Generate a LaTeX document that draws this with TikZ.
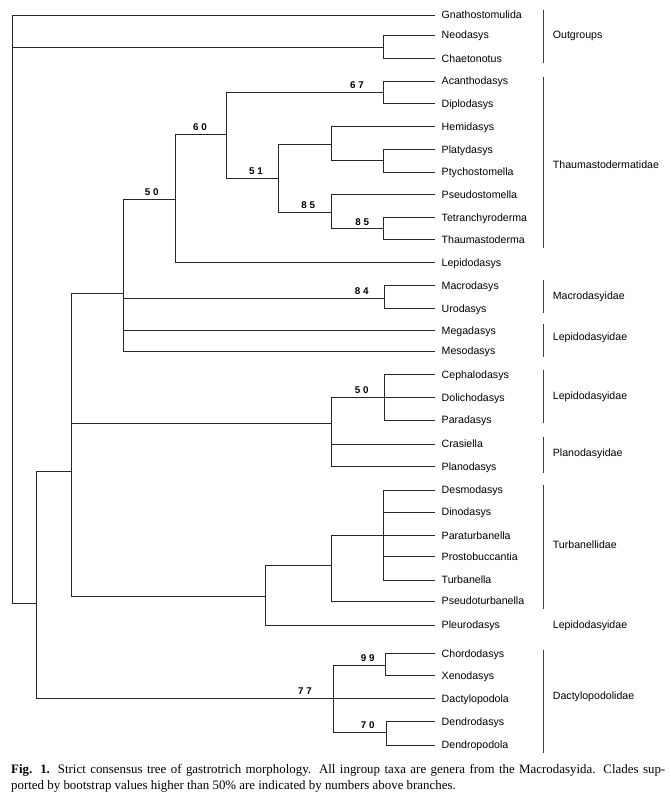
\documentclass[tikz,border=0pt]{standalone}
\usepackage{fontspec}
\setmainfont{Liberation Serif}
\setsansfont{Liberation Sans}
\usetikzlibrary{calc}

\tikzset{
    branch/.style={line width=0.8pt, black!85},
    leaf/.style={anchor=west, inner xsep=6.5pt, inner ysep=0pt, text height=7.6pt, text depth=0pt,
        font=\sffamily\fontsize{10.6}{12}\selectfont},
    family/.style={anchor=west, inner sep=0pt, text height=7.6pt, text depth=0pt,
        font=\sffamily\fontsize{10.6}{12}\selectfont},
    boot/.style={anchor=base, inner sep=0pt, font=\sffamily\bfseries\fontsize{9.8}{11}\selectfont},
    bracket/.style={line width=0.7pt, black!75},
    caption/.style={anchor=west, inner sep=0pt, font=\fontsize{12.9}{15}\selectfont},
}

\begin{document}
\begin{tikzpicture}[x=1pt, y=-1pt]

\def\tipx{435}
\def\famx{543.3}
\def\labx{552.7}

\useasboundingbox (0,0) rectangle (671,800);

% leaves
\node[leaf] (gnatho)     at (\tipx, 15)    {Gnathostomulida};
\node[leaf] (neo)        at (\tipx, 35)    {Neodasys};
\node[leaf] (chaeto)     at (\tipx, 58.3)  {Chaetonotus};
\node[leaf] (acantho)    at (\tipx, 81)    {Acanthodasys};
\node[leaf] (diplo)      at (\tipx, 103.5) {Diplodasys};
\node[leaf] (hemi)       at (\tipx, 126.7) {Hemidasys};
\node[leaf] (platy)      at (\tipx, 149.3) {Platydasys};
\node[leaf] (ptycho)     at (\tipx, 172)   {Ptychostomella};
\node[leaf] (pseudost)   at (\tipx, 194.3) {Pseudostomella};
\node[leaf] (tetra)      at (\tipx, 217.7) {Tetranchyroderma};
\node[leaf] (thaumast)   at (\tipx, 239.3) {Thaumastoderma};
\node[leaf] (lepido)     at (\tipx, 262.5) {Lepidodasys};
\node[leaf] (macro)      at (\tipx, 285.7) {Macrodasys};
\node[leaf] (uro)        at (\tipx, 308.3) {Urodasys};
\node[leaf] (mega)       at (\tipx, 330.5) {Megadasys};
\node[leaf] (meso)       at (\tipx, 351)   {Mesodasys};
\node[leaf] (cephalo)    at (\tipx, 374.3) {Cephalodasys};
\node[leaf] (dolicho)    at (\tipx, 397.3) {Dolichodasys};
\node[leaf] (para)       at (\tipx, 420)   {Paradasys};
\node[leaf] (crasi)      at (\tipx, 444)   {Crasiella};
\node[leaf] (plano)      at (\tipx, 466.7) {Planodasys};
\node[leaf] (desmo)      at (\tipx, 490)   {Desmodasys};
\node[leaf] (dino)       at (\tipx, 512)   {Dinodasys};
\node[leaf] (paraturb)   at (\tipx, 535.7) {Paraturbanella};
\node[leaf] (prosto)     at (\tipx, 556.7) {Prostobuccantia};
\node[leaf] (turb)       at (\tipx, 580)   {Turbanella};
\node[leaf] (pseudoturb) at (\tipx, 601)   {Pseudoturbanella};
\node[leaf] (pleuro)     at (\tipx, 625)   {Pleurodasys};
\node[leaf] (chordo)     at (\tipx, 653.3) {Chordodasys};
\node[leaf] (xeno)       at (\tipx, 675.7) {Xenodasys};
\node[leaf] (dactylo)    at (\tipx, 698.3) {Dactylopodola};
\node[leaf] (dendro)     at (\tipx, 721.7) {Dendrodasys};
\node[leaf] (dendrop)    at (\tipx, 745)   {Dendropodola};

% inner nodes, each at the point where its parent meets it
\coordinate (root)   at (12, 300);
\coordinate (og)     at (383, 47.3);
\coordinate (ing)    at (36.7, 603);
\coordinate (c71)    at (71, 471);
\coordinate (c123)   at (123, 293.7);
\coordinate (c50)    at (175, 199.3);
\coordinate (c60)    at (226.7, 134.3);
\coordinate (c67)    at (383, 92.3);
\coordinate (c51)    at (278.7, 178.3);
\coordinate (chemi)  at (331, 144.3);
\coordinate (cplaty) at (383, 160.7);
\coordinate (c85a)   at (331, 212);
\coordinate (c85b)   at (383, 228.5);
\coordinate (c84)    at (384, 298.3);
\coordinate (cplano) at (331, 423);
\coordinate (cceph)  at (384, 397.3);
\coordinate (c266)   at (265.7, 596.3);
\coordinate (cturb)  at (331, 565.7);
\coordinate (cturb2) at (383, 535.7);
\coordinate (cdact)  at (333.3, 698.3);
\coordinate (c99)    at (385, 665);
\coordinate (c70)    at (386.7, 732.3);

\draw[branch] (root) |- (gnatho.west) (root) |- (og) (root) |- (ing);
\draw[branch] (og) |- (neo.west) (og) |- (chaeto.west);
\draw[branch] (ing) |- (c71) (ing) |- (cdact);
\draw[branch] (c71) |- (c123) (c71) |- (cplano) (c71) |- (c266);
\draw[branch] (c123) |- (c50) (c123) |- (c84) (c123) |- (mega.west) (c123) |- (meso.west);
\draw[branch] (c50) |- (c60) (c50) |- (lepido.west);
\draw[branch] (c60) |- (c67) (c60) |- (c51);
\draw[branch] (c67) |- (acantho.west) (c67) |- (diplo.west);
\draw[branch] (c51) |- (chemi) (c51) |- (c85a);
\draw[branch] (chemi) |- (hemi.west) (chemi) |- (cplaty);
\draw[branch] (cplaty) |- (platy.west) (cplaty) |- (ptycho.west);
\draw[branch] (c85a) |- (pseudost.west) (c85a) |- (c85b);
\draw[branch] (c85b) |- (tetra.west) (c85b) |- (thaumast.west);
\draw[branch] (c84) |- (macro.west) (c84) |- (uro.west);
\draw[branch] (cplano) |- (cceph) (cplano) |- (crasi.west) (cplano) |- (plano.west);
\draw[branch] (cceph) |- (cephalo.west) (cceph) |- (dolicho.west) (cceph) |- (para.west);
\draw[branch] (c266) |- (cturb) (c266) |- (pleuro.west);
\draw[branch] (cturb) |- (cturb2) (cturb) |- (pseudoturb.west);
\draw[branch] (cturb2) |- (desmo.west) (cturb2) |- (dino.west) (cturb2) |- (paraturb.west)
    (cturb2) |- (prosto.west) (cturb2) |- (turb.west);
\draw[branch] (cdact) |- (c99) (cdact) |- (dactylo.west) (cdact) |- (c70);
\draw[branch] (c99) |- (chordo.west) (c99) |- (xeno.west);
\draw[branch] (c70) |- (dendro.west) (c70) |- (dendrop.west);

% bootstrap values
\node[boot] (b67)  at ($(c67)+(-26,-3.5)$)    {6 7};
\node[boot] (b60)  at ($(c60)+(-26.7,-3.5)$)  {6 0};
\node[boot] (b51)  at ($(c51)+(-22.7,-3.5)$)  {5 1};
\node[boot] (b85a) at ($(c85a)+(-22.7,-3.5)$) {8 5};
\node[boot] (b85b) at ($(c85b)+(-20.7,-3.5)$) {8 5};
\node[boot] (b50a) at ($(c50)+(-23.3,-3.5)$)  {5 0};
\node[boot] (b84)  at ($(c84)+(-22.3,-3.5)$)  {8 4};
\node[boot] (b50b) at ($(cceph)+(-22.3,-3.5)$) {5 0};
\node[boot] (b77)  at ($(cdact)+(-28.3,-3.5)$) {7 7};
\node[boot] (b99)  at ($(c99)+(-17.3,-3.5)$)  {9 9};
\node[boot] (b70)  at ($(c70)+(-19,-3.5)$)    {7 0};

% families
\draw[bracket] (\famx, 10) -- (\famx, 63.3);
\node[family] (outg) at (\labx, 35) {Outgroups};
\draw[bracket] (\famx, 76.7) -- (\famx, 248.3);
\node[family] (thaum) at (\labx, 164.3) {Thaumastodermatidae};
\draw[bracket] (\famx, 280) -- (\famx, 313.3);
\node[family] (macrof) at (\labx, 296) {Macrodasyidae};
\draw[bracket] (\famx, 324) -- (\famx, 356.7);
\node[family] (lepa) at (\labx, 336.7) {Lepidodasyidae};
\draw[bracket] (\famx, 370) -- (\famx, 422.7);
\node[family] (lepb) at (\labx, 396) {Lepidodasyidae};
\draw[bracket] (\famx, 436.7) -- (\famx, 473.3);
\node[family] (planof) at (\labx, 452.7) {Planodasyidae};
\draw[bracket] (\famx, 485) -- (\famx, 609.3);
\node[family] (turbf) at (\labx, 545) {Turbanellidae};
\node[family] (lepc) at (\labx, 624.3) {Lepidodasyidae};
\draw[bracket] (\famx, 650) -- (\famx, 752.7);
\node[family] (dactf) at (\labx, 696) {Dactylopodolidae};

% caption
\node[caption] (cap1) at (11, 770) {\makebox[654pt][s]{\textbf{Fig. 1.} Strict consensus tree of gastrotrich morphology. All ingroup taxa are genera from the Macrodasyida. Clades sup-}};
\node[caption] (cap2) at (11, 786.7) {ported by bootstrap values higher than 50\% are indicated by numbers above branches.};

\end{tikzpicture}
\end{document}
